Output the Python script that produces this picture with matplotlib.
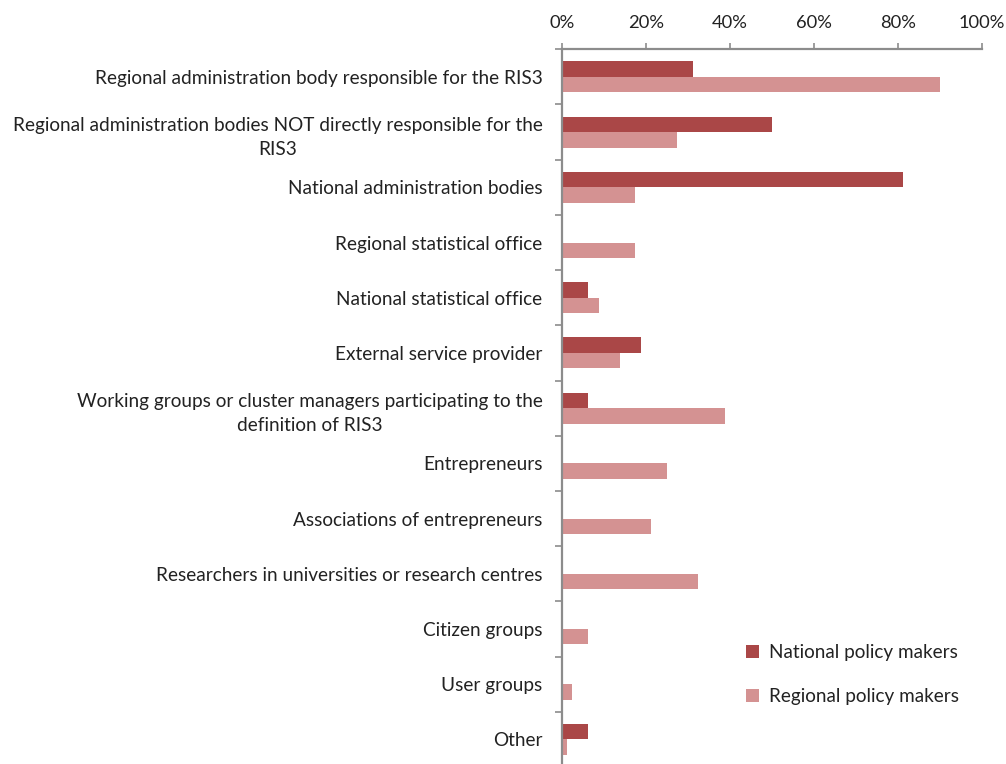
import numpy as np
import matplotlib.pyplot as plt
from matplotlib.ticker import FixedLocator, PercentFormatter

plt.rcParams['font.family'] = ['Lato', 'DejaVu Sans']

categories = [
    'Regional administration body responsible for the RIS3',
    'Regional administration bodies NOT directly responsible for the\nRIS3',
    'National administration bodies',
    'Regional statistical office',
    'National statistical office',
    'External service provider',
    'Working groups or cluster managers participating to the\ndefinition of RIS3',
    'Entrepreneurs',
    'Associations of entrepreneurs',
    'Researchers in universities or research centres',
    'Citizen groups',
    'User groups',
    'Other',
]
national = [31.25, 50.0, 81.25, 0.0, 6.25, 18.75, 6.25, 0.0, 0.0, 0.0, 0.0, 0.0, 6.25]
regional = [90.0, 27.5, 17.5, 17.5, 8.75, 13.75, 38.75, 25.0, 21.25, 32.5, 6.25, 2.5, 1.25]

dark = '#AA4747'
light = '#D49292'
axis_grey = '#8C8C8C'

fig = plt.figure(figsize=(10.06, 7.64), dpi=100)
ax = fig.add_axes([0.5586, -0.004, 0.4175, 0.9395])

y = np.arange(len(categories))
h = 0.28
ax.barh(y - h / 2, national, height=h, color=dark, label='National policy makers')
ax.barh(y + h / 2, regional, height=h, color=light, label='Regional policy makers')

ax.set_xlim(0, 100)
ax.set_ylim(len(categories) - 0.5, -0.5)

# x axis on top
ax.xaxis.tick_top()
ax.xaxis.set_major_locator(FixedLocator([0, 20, 40, 60, 80, 100]))
ax.xaxis.set_major_formatter(PercentFormatter(decimals=0))
ax.tick_params(axis='x', which='major', length=4.5, width=1.2, color=axis_grey,
               pad=9, labelsize=13.2, labelcolor='#222222')

# y ticks at category boundaries, labels at centres
ax.yaxis.set_major_locator(FixedLocator(np.arange(len(categories) + 1) - 0.5))
ax.set_yticklabels([])
ax.set_yticks(y, minor=True)
ax.set_yticklabels(categories, minor=True, multialignment='center', linespacing=1.5)
ax.tick_params(axis='y', which='minor', length=0, pad=14, labelsize=13.7, labelcolor='#222222')
ax.tick_params(axis='y', which='major', length=5, width=1.2, color=axis_grey, direction='out')

for s in ['right', 'bottom']:
    ax.spines[s].set_visible(False)
for s in ['top', 'left']:
    ax.spines[s].set_color(axis_grey)
    ax.spines[s].set_linewidth(1.6)

ax.legend(loc='lower right', bbox_to_anchor=(0.985, 0.063), frameon=False, fontsize=13.6,
          handlelength=0.7, handleheight=0.7, handletextpad=0.5, labelspacing=1.4,
          labelcolor='#222222')

fig.savefig('out.png', dpi=100)
